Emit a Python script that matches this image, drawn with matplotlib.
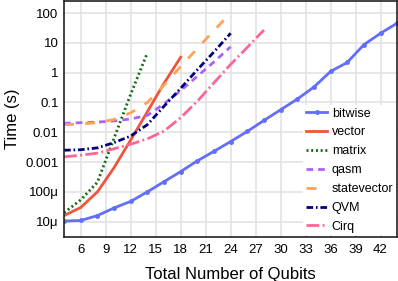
import matplotlib
matplotlib.use("Agg")
import matplotlib.pyplot as plt
import numpy as np

plt.rcParams['font.family'] = ['Liberation Sans', 'DejaVu Sans']

# Data
bitwise_q = [4, 6, 8, 10, 12, 14, 16, 18, 20, 22, 24, 26, 28, 30, 32, 34, 36, 38, 40, 42, 44]
bitwise_t = [1.05e-5, 1.1e-5, 1.6e-5, 2.9e-5, 4.8e-5, 1.0e-4, 2.2e-4, 4.8e-4, 1.1e-3, 2.3e-3,
             4.9e-3, 0.0107, 0.025, 0.057, 0.13, 0.33, 1.1, 2.2, 8.7, 21, 46]

vector_q = [4, 6, 8, 10, 12, 14, 16, 18]
vector_t = [1.6e-5, 3.0e-5, 1.0e-4, 6.5e-4, 5.5e-3, 0.049, 0.44, 3.3]

matrix_q = [4, 6, 8, 10, 12, 14]
matrix_t = [2.0e-5, 5.4e-5, 2.1e-4, 6.3e-3, 0.19, 4.6]

qasm_q = [4, 6, 8, 10, 12, 14, 16, 18, 20, 22, 24]
qasm_t = [0.020, 0.021, 0.022, 0.024, 0.028, 0.037, 0.09, 0.25, 0.76, 2.3, 7.4]

sv_q = [4, 6, 8, 10, 12, 14, 16, 18, 20, 22, 24]
sv_t = [0.018, 0.019, 0.021, 0.027, 0.045, 0.10, 0.38, 1.6, 6.5, 26, 100]

qvm_q = [4, 6, 8, 10, 12, 14, 16, 18, 20, 22, 24]
qvm_t = [0.0025, 0.0026, 0.0030, 0.0045, 0.0075, 0.018, 0.075, 0.30, 1.25, 5.0, 21]

cirq_q = [4, 6, 8, 10, 12, 14, 16, 18, 20, 22, 24, 26, 28]
cirq_t = [1.5e-3, 1.7e-3, 2.0e-3, 2.8e-3, 4.0e-3, 6.0e-3, 0.011, 0.031, 0.11, 0.46, 1.9, 7.1, 27]

xticks = [6, 9, 12, 15, 18, 21, 24, 27, 30, 33, 36, 39, 42]
yticks = [1e-5, 1e-4, 1e-3, 1e-2, 1e-1, 1, 10, 100]
ytick_labels = ['10\u03bc', '100\u03bc', '0.001', '0.01', '0.1', '1', '10', '100']

fig = plt.figure(figsize=(3.98, 2.81), dpi=100)
ax = fig.add_axes([0.161, 0.158, 0.837, 0.840])

lw = 2.0
ax.plot(bitwise_q, bitwise_t, color='#636EFA', lw=lw, marker='o', markersize=2.5, label='bitwise')
ax.plot(vector_q, vector_t, color='#EF553B', lw=lw, label='vector')
ax.plot(matrix_q, matrix_t, color='#0b6b0b', lw=lw, dashes=(0.7, 1.0), label='matrix')
ax.plot(qasm_q, qasm_t, color='#AB63FA', lw=lw, dashes=(2.4, 1.8), label='qasm')
ax.plot(sv_q, sv_t, color='#FFA15A', lw=lw, dashes=(3.6, 4.0), label='statevector')
ax.plot(qvm_q, qvm_t, color='#00007f', lw=lw, dashes=(2.4, 1.0, 0.6, 1.0), label='QVM')
ax.plot(cirq_q, cirq_t, color='#FF6692', lw=lw, dashes=(4.6, 1.2, 0.7, 1.2), label='Cirq')

ax.set_yscale('log')
ax.set_xlim(4, 44)
ax.set_ylim(10**-5.5, 10**2.42)
ax.set_xticks(xticks)
ax.set_yticks(yticks)
ax.set_yticklabels(ytick_labels)
ax.yaxis.set_minor_locator(matplotlib.ticker.NullLocator())
ax.tick_params(axis='both', length=0, labelsize=9.5, pad=5)
ax.tick_params(axis='y', pad=4)
ax.grid(True, color='#e3e3e3', lw=1.2)
ax.set_axisbelow(True)
for s in ax.spines.values():
    s.set_color('#222222')
    s.set_linewidth(1.2)

ax.set_xlabel('Total Number of Qubits', fontsize=12, labelpad=8)
ax.set_ylabel('Time (s)', fontsize=12, labelpad=4)

leg = ax.legend(loc='lower right', fontsize=9, frameon=True, framealpha=1.0,
                edgecolor='none', fancybox=False, handlelength=1.75, handletextpad=0.35,
                labelspacing=0.55, borderaxespad=0.1, borderpad=0.2)

fig.savefig('out.png', dpi=100)
